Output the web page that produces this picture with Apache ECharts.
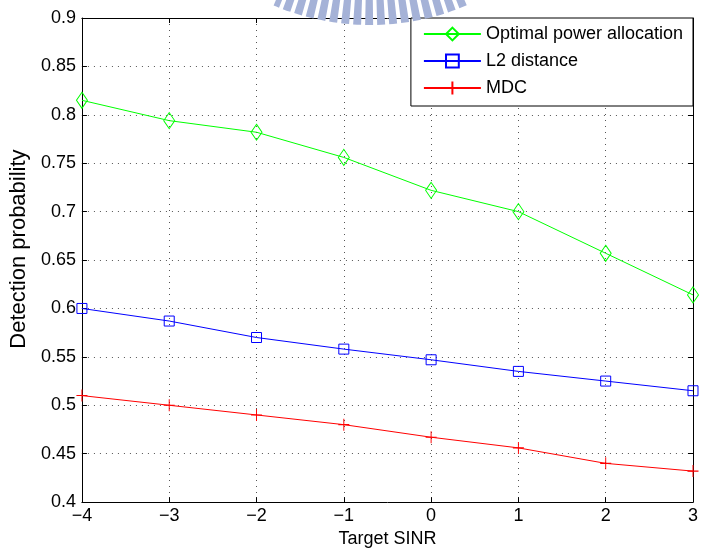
<!DOCTYPE html>
<html>
<head>
<meta charset="utf-8">
<script src="https://cdn.jsdelivr.net/npm/echarts@6/dist/echarts.min.js"></script>
<style>html,body{margin:0;padding:0;background:#fff;}#c{width:701px;height:553px;}</style>
</head>
<body>
<div id="c"></div>
<script>
const sinr = [-4, -3, -2, -1, 0, 1, 2, 3];
const optimalPower = [0.815, 0.794, 0.782, 0.756, 0.722, 0.700, 0.657, 0.614];
const l2Distance = [0.600, 0.587, 0.570, 0.558, 0.547, 0.535, 0.525, 0.515];
const mdc = [0.510, 0.500, 0.490, 0.480, 0.467, 0.456, 0.440, 0.432];
const seriesNames = ['Optimal power allocation', 'L2 distance', 'MDC'];
const xTitle = 'Target SINR';
const yTitle = 'Detection probability';

const FONT = '"Liberation Sans", Arial, Helvetica, sans-serif';
const FS = 18;
const pair = arr => sinr.map((x, i) => [x, arr[i]]);
const minus = v => String(v).replace('-', '\u2212');

const gridLine = { show: true, lineStyle: { color: '#555', width: 1, type: [1, 5] } };
const axisLine = { show: true, onZero: false, lineStyle: { color: '#000', width: 1 } };
const tick = { show: true, inside: true, length: 5, lineStyle: { color: '#000', width: 1 } };

const chart = echarts.init(document.getElementById('c'), null, { renderer: 'canvas' });
chart.setOption({
  animation: false,
  backgroundColor: '#fff',
  textStyle: { fontFamily: FONT },
  grid: { left: 79, right: 8, top: 18, bottom: 43, containLabel: false },
  xAxis: [{
    type: 'value', min: -4, max: 3, interval: 1,
    name: xTitle, nameLocation: 'middle', nameGap: 21,
    nameTextStyle: { fontSize: FS, color: '#000', fontFamily: FONT },
    axisLine: axisLine, axisTick: tick, splitLine: gridLine,
    axisLabel: { fontSize: FS, color: '#000', margin: 5, fontFamily: FONT, formatter: minus }
  }, {
    type: 'value', min: -4, max: 3, interval: 1, position: 'top',
    axisLine: axisLine, axisTick: tick, splitLine: { show: false }, axisLabel: { show: false }
  }],
  yAxis: [{
    type: 'value', min: 0.4, max: 0.9, interval: 0.05,
    name: yTitle, nameLocation: 'middle', nameGap: 51, nameRotate: 90,
    nameTextStyle: { fontSize: 22, color: '#000', fontFamily: FONT, padding: [0, 0, 0, 22] },
    axisLine: axisLine, axisTick: tick, splitLine: gridLine,
    axisLabel: { fontSize: FS, color: '#000', margin: 6, fontFamily: FONT,
      formatter: v => String(Math.round(v * 100) / 100) }
  }, {
    type: 'value', min: 0.4, max: 0.9, interval: 0.05, position: 'right',
    axisLine: axisLine, axisTick: tick, splitLine: { show: false }, axisLabel: { show: false }
  }],
  legend: {
    orient: 'vertical', right: 8, top: 18,
    padding: [7, 10, 9, 12],
    backgroundColor: '#fff', borderColor: '#000', borderWidth: 1, borderRadius: 0,
    itemWidth: 57, itemHeight: 16, itemGap: 9,
    textStyle: { fontSize: FS, color: '#000', fontFamily: FONT, lineHeight: 18 },
    data: seriesNames
  },
  series: [{
    name: seriesNames[0], type: 'line', data: pair(optimalPower),
    symbol: 'diamond', symbolSize: [11, 16],
    lineStyle: { color: '#00ff00', width: 1 },
    itemStyle: { color: 'rgba(255,255,255,0)', borderColor: '#00ff00', borderWidth: 1 },
    z: 3
  }, {
    name: seriesNames[1], type: 'line', data: pair(l2Distance),
    symbol: 'rect', symbolSize: [10, 10],
    lineStyle: { color: '#0000ff', width: 1 },
    itemStyle: { color: 'rgba(255,255,255,0)', borderColor: '#0000ff', borderWidth: 1 },
    z: 3
  }, {
    name: seriesNames[2], type: 'line', data: pair(mdc),
    symbol: 'path://M0,6L12,6M6,0L6,12', symbolSize: [11, 12],
    lineStyle: { color: '#ff0000', width: 1 },
    itemStyle: { color: 'rgba(255,255,255,0)', borderColor: '#ff0000', borderWidth: 1 },
    z: 3
  }],
  graphic: [{
    type: 'arc', z: 100, silent: true,
    shape: { cx: 370, cy: -223, r: 233, startAngle: 1.17, endAngle: 1.97 },
    style: { stroke: 'rgb(165,178,215)', fill: null, lineWidth: 30, lineDash: [7.5, 3.8] }
  }]
});
</script>
</body>
</html>
